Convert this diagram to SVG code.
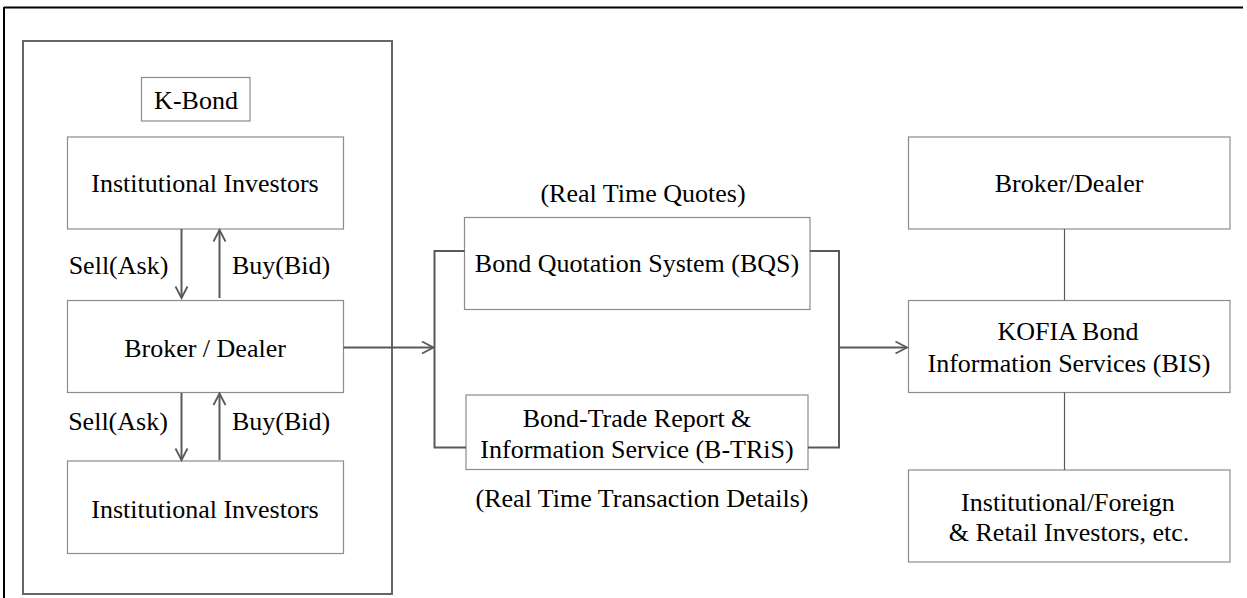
<svg xmlns="http://www.w3.org/2000/svg" width="1247" height="598" viewBox="0 0 1247 598">
<style>
.box{fill:#fff;stroke:#8c8c8c;stroke-width:1.2}
.t{font-family:'Liberation Serif','Tinos','Times New Roman','DejaVu Serif','Noto Serif',serif;font-size:26px;fill:#000;text-anchor:middle}
.c{fill:none;stroke:#595959;stroke-width:2}
.thin{fill:none;stroke:#595959;stroke-width:1.2}
</style>
<defs>
<marker id="arr" markerUnits="userSpaceOnUse" markerWidth="16" markerHeight="16" refX="13" refY="8" orient="auto">
<path d="M1.5,2 L13,8 L1.5,14" fill="none" stroke="#595959" stroke-width="1.8"/>
</marker>
</defs>
<rect width="1247" height="598" fill="#fff"/>
<g id="frame">
<line x1="4" y1="7.5" x2="1243" y2="7.5" stroke="#000" stroke-width="2"/>
<line x1="4" y1="7" x2="4" y2="598" stroke="#000" stroke-width="2"/>
</g>
<g id="kbond-container">
<rect x="23" y="41" width="369" height="553" fill="none" stroke="#666" stroke-width="2"/>
</g>
<g id="kbond-label">
<rect class="box" x="141.5" y="77.5" width="108.5" height="43.5"/>
<text class="t" x="196" y="109" font-family="Liberation Serif, serif">K-Bond</text>
</g>
<g id="inst-top">
<rect class="box" x="67.5" y="137" width="276" height="92"/>
<text class="t" x="205" y="192">Institutional Investors</text>
</g>
<g id="broker-left">
<rect class="box" x="67.5" y="300.5" width="276" height="92"/>
<text class="t" x="205" y="356.5">Broker / Dealer</text>
</g>
<g id="inst-bottom">
<rect class="box" x="67.5" y="461" width="276" height="92.5"/>
<text class="t" x="205" y="517.5">Institutional Investors</text>
</g>
<g id="bqs">
<rect class="box" x="464.5" y="217.5" width="345.5" height="92"/>
<text class="t" x="637" y="271.5">Bond Quotation System (BQS)</text>
</g>
<g id="btris">
<rect class="box" x="466" y="395" width="342" height="74.5"/>
<text class="t" x="637" y="426.5">Bond-Trade Report &amp;</text>
<text class="t" x="637" y="457.5">Information Service (B-TRiS)</text>
</g>
<g id="broker-right">
<rect class="box" x="908.5" y="137" width="321.5" height="92"/>
<text class="t" x="1069" y="192">Broker/Dealer</text>
</g>
<g id="kofia">
<rect class="box" x="908.5" y="300.5" width="321.5" height="92"/>
<text class="t" x="1068" y="339.5">KOFIA Bond</text>
<text class="t" x="1069" y="371.5">Information Services (BIS)</text>
</g>
<g id="investors-right">
<rect class="box" x="908.5" y="470" width="321.5" height="92"/>
<text class="t" x="1068" y="511">Institutional/Foreign</text>
<text class="t" x="1069" y="541">&amp; Retail Investors, etc.</text>
</g>
<g id="labels">
<text class="t" x="643" y="201.5">(Real Time Quotes)</text>
<text class="t" x="642" y="506.5">(Real Time Transaction Details)</text>
<text class="t" x="118.5" y="273.5">Sell(Ask)</text>
<text class="t" x="281" y="273.5">Buy(Bid)</text>
<text class="t" x="118" y="429.5">Sell(Ask)</text>
<text class="t" x="281" y="429.5">Buy(Bid)</text>
</g>
<g id="connectors">
<line class="c" x1="181.5" y1="229" x2="181.5" y2="298" marker-end="url(#arr)"/>
<line class="c" x1="219.5" y1="298" x2="219.5" y2="230" marker-end="url(#arr)"/>
<line class="c" x1="181.5" y1="393" x2="181.5" y2="460" marker-end="url(#arr)"/>
<line class="c" x1="219.5" y1="460" x2="219.5" y2="393.5" marker-end="url(#arr)"/>
<line class="c" x1="343.5" y1="347.5" x2="433.5" y2="347.5" marker-end="url(#arr)"/>
<polyline class="c" points="464.5,251 434.5,251 434.5,447.5 466,447.5"/>
<polyline class="c" points="810,251 839,251 839,447.5 808,447.5"/>
<line class="c" x1="839" y1="347.5" x2="907" y2="347.5" marker-end="url(#arr)"/>
<line class="thin" x1="1064.5" y1="229" x2="1064.5" y2="300.5"/>
<line class="thin" x1="1064.5" y1="392.5" x2="1064.5" y2="470"/>
</g>
</svg>
